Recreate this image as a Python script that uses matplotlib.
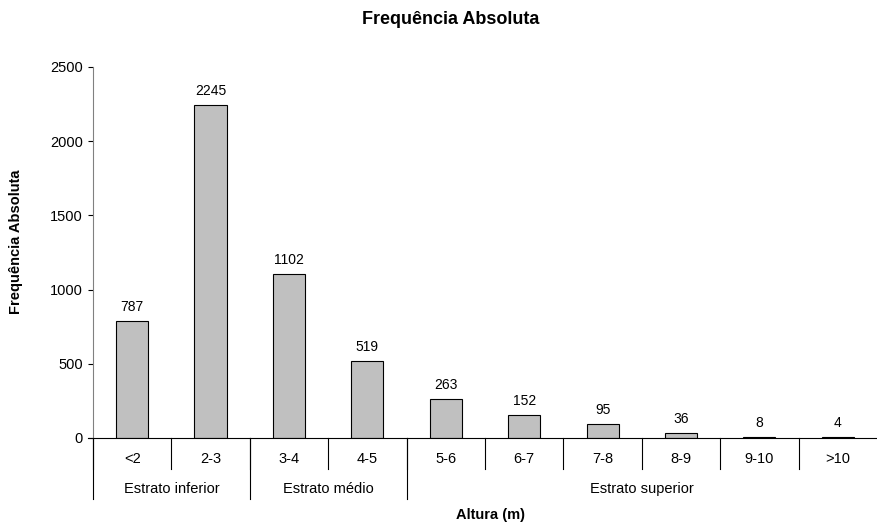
import numpy as np
import matplotlib.pyplot as plt
from matplotlib.transforms import blended_transform_factory

plt.rcParams['font.family'] = ['Liberation Sans', 'DejaVu Sans']

# data
categorias = ['<2', '2-3', '3-4', '4-5', '5-6', '6-7', '7-8', '8-9', '9-10', '>10']
frequencia = [787, 2245, 1102, 519, 263, 152, 95, 36, 8, 4]
estratos = ['Estrato inferior', 'Estrato médio', 'Estrato superior']
estrato_n = [2, 2, 6]

fig = plt.figure(figsize=(8.77, 5.22), dpi=100)
ax = fig.add_axes([0.106, 0.161, 0.894, 0.711])

x = np.arange(len(categorias))
ax.bar(x, frequencia, width=0.41, color='#C0C0C0', edgecolor='black', linewidth=0.8)

for xi, v in zip(x, frequencia):
    ax.annotate(str(v), (xi, v), xytext=(0, 5), textcoords='offset points',
                ha='center', va='bottom', fontsize=10)

ax.set_xlim(-0.5, len(categorias) - 0.5)
ax.set_ylim(0, 2500)
ax.set_yticks(np.arange(0, 2501, 500))
ax.tick_params(axis='y', labelsize=10.5, length=3.6, pad=3.6, width=0.8, direction='out')
ax.set_xticks([])
for s in ['top', 'right']:
    ax.spines[s].set_visible(False)
ax.spines['left'].set_color('#808080')
ax.spines['bottom'].set_linewidth(0.8)

tr = blended_transform_factory(ax.transData, ax.transAxes)
# small stub of the x axis line left of the y axis
ax.plot([-0.565, -0.5], [0, 0], transform=tr, color='black', lw=0.8, clip_on=False)

# category row
for i in range(len(categorias)):
    ax.plot([i - 0.5, i - 0.5], [0, -0.083], transform=tr, color='black', lw=0.8, clip_on=False)
for xi, c in zip(x, categorias):
    ax.text(xi, -0.056, c, transform=tr, ha='center', va='center', fontsize=10.5)

# group row
start = 0
for nome, n in zip(estratos, estrato_n):
    ax.plot([start - 0.5, start - 0.5], [0, -0.165], transform=tr, color='black', lw=0.8, clip_on=False)
    ax.text(start - 0.5 + n / 2, -0.138, nome, transform=tr, ha='center', va='center', fontsize=10.5)
    start += n

fig.text(490 / 877, 1 - 515 / 522, 'Altura (m)', ha='center', va='center', fontsize=10.5,
         fontweight='bold')
fig.text(0.0185, 0.537, 'Frequência Absoluta', rotation=90, ha='center', va='center',
         fontsize=10.5, fontweight='bold')
fig.text(451 / 877, 1 - 19 / 522, 'Frequência Absoluta', ha='center', va='center',
         fontsize=13, fontweight='bold')

fig.savefig('out.png', dpi=100)
